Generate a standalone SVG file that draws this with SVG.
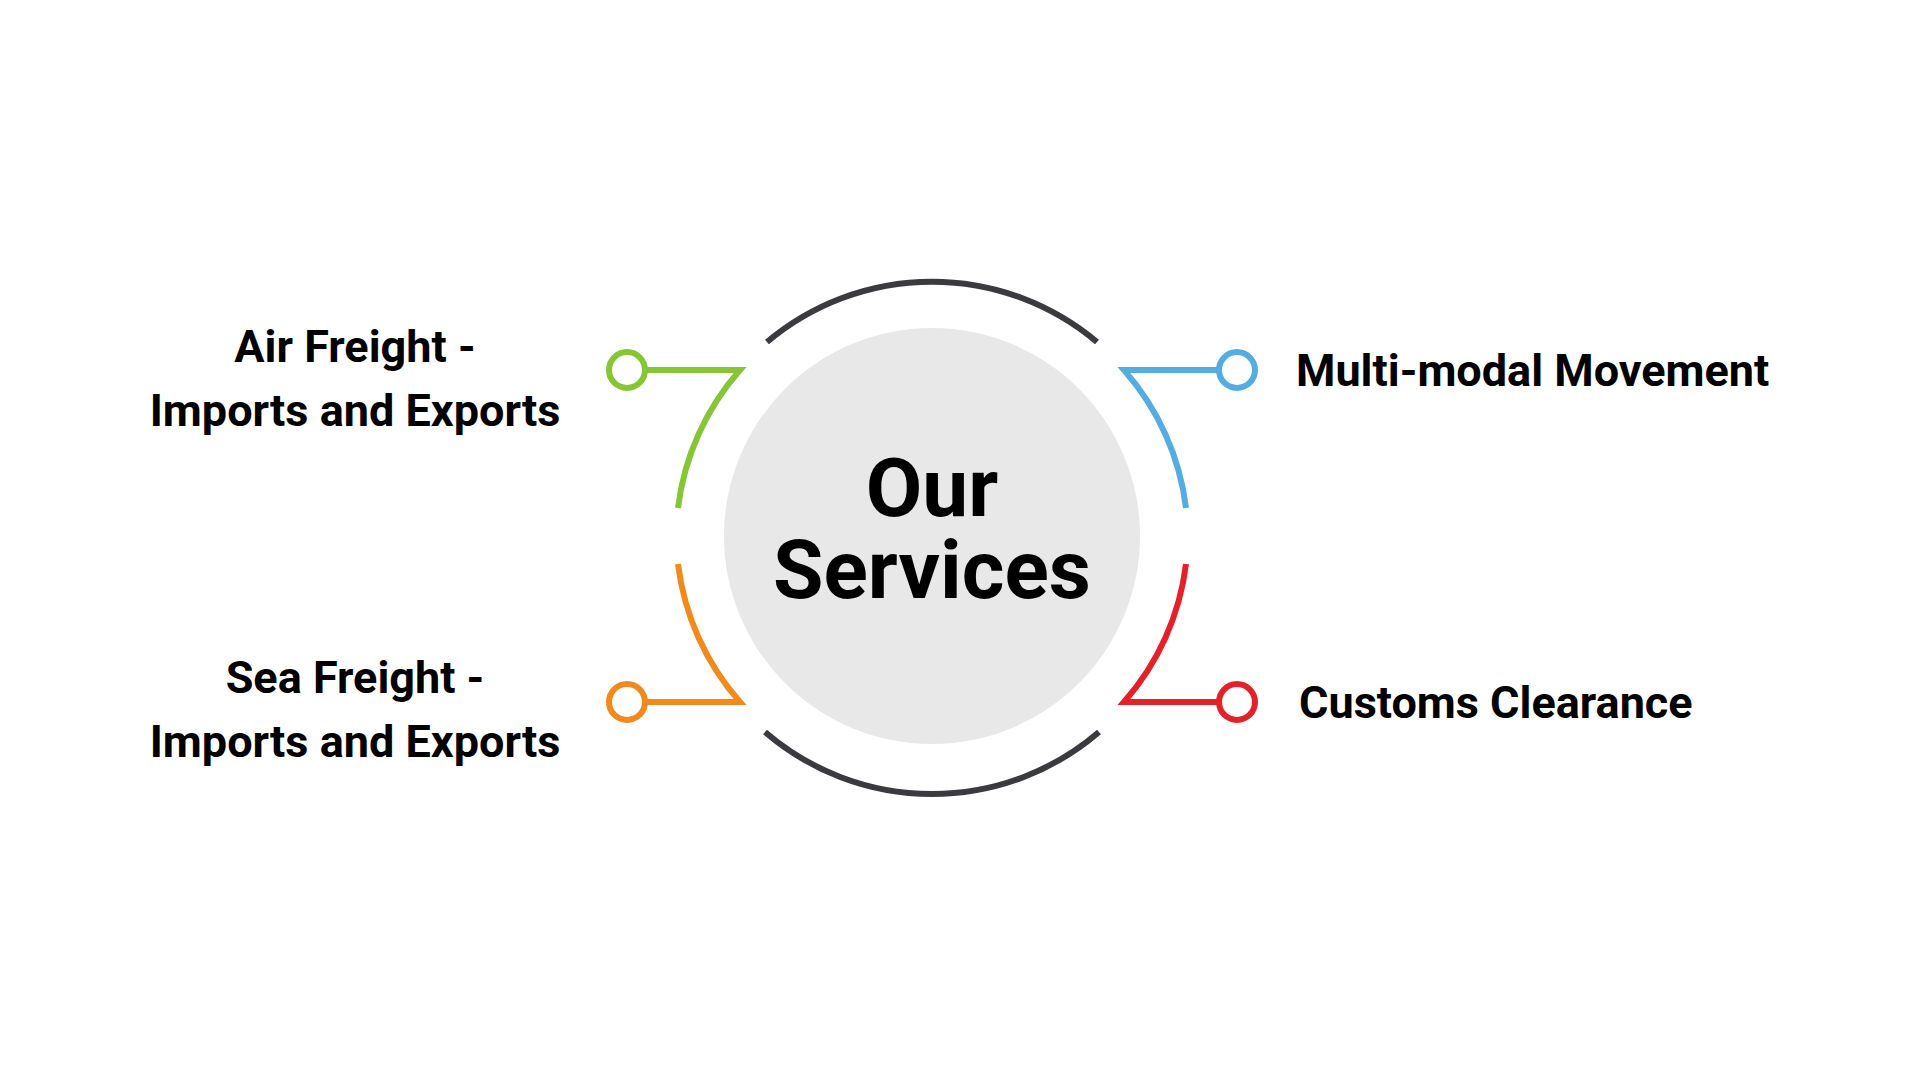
<svg xmlns="http://www.w3.org/2000/svg" width="1920" height="1078" viewBox="0 0 1920 1078">
<style>
.t{font-family:Roboto,"Liberation Sans",sans-serif;font-weight:700;fill:#000;font-size:45px}
.c{font-size:82px}
.l{fill:none;stroke-width:6}
.d{fill:none;stroke:#3b3b3f;stroke-width:6}
.dot{fill:#fff;stroke-width:6}
</style>
<rect width="1920" height="1078" fill="#fff"/>
<g id="center">
<circle cx="932" cy="536" r="208" fill="#e7e8e7"/>
<path class="d" d="M767,342 A256,256 0 0 1 1097,342"/>
<path class="d" d="M765,732 A256,256 0 0 0 1099,732"/>
<text class="t c" x="932" y="516" text-anchor="middle">Our</text>
<text class="t c" x="932" y="598" text-anchor="middle">Services</text>
</g>
<g id="connectors">
<path class="l" stroke="#86c535" d="M645,370 L740,370 A256,256 0 0 0 678,508"/>
<path class="l" stroke="#f08a1c" d="M645,702 L740,702 A256,256 0 0 1 678,564"/>
<path class="l" stroke="#55ace0" d="M1219,370 L1124,370 A256,256 0 0 1 1186,508"/>
<path class="l" stroke="#e42129" d="M1219,702 L1124,702 A256,256 0 0 0 1186,564"/>
</g>
<g id="air">
<circle class="dot" stroke="#86c535" cx="627" cy="370" r="18"/>
<text class="t" x="355" y="362" text-anchor="middle">Air Freight -</text>
<text class="t" x="355" y="426" text-anchor="middle">Imports and Exports</text>
</g>
<g id="sea">
<circle class="dot" stroke="#f08a1c" cx="627" cy="702" r="18"/>
<text class="t" x="355" y="693" text-anchor="middle">Sea Freight -</text>
<text class="t" x="355" y="757" text-anchor="middle">Imports and Exports</text>
</g>
<g id="multi">
<circle class="dot" stroke="#55ace0" cx="1237" cy="370" r="18"/>
<text class="t" x="1296" y="386">Multi-modal Movement</text>
</g>
<g id="customs">
<circle class="dot" stroke="#e42129" cx="1237" cy="702" r="18"/>
<text class="t" x="1299" y="718">Customs Clearance</text>
</g>
</svg>
